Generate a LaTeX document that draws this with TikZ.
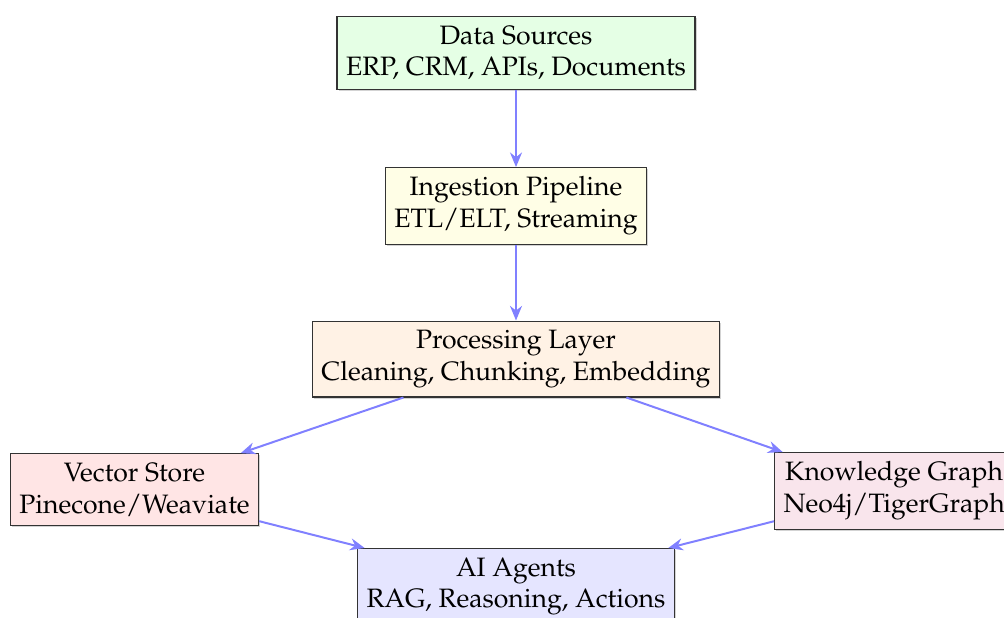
\documentclass[tikz,border=0pt]{standalone}
\usepackage[T1]{fontenc}
\usepackage{mathpazo}
\usetikzlibrary{arrows.meta,shadows}
\begin{document}
\begin{tikzpicture}[x=0.376pt,y=-0.376pt,
  stage/.style={draw=black!80, align=center, font=\normalsize, inner sep=3.4pt,
    drop shadow={shadow xshift=0.6pt, shadow yshift=-0.6pt, opacity=0.35}},
  flow/.style={draw=blue!50, line width=0.75pt, -{Stealth[length=5.5pt,width=4.5pt]}}]
  \useasboundingbox (0,0) rectangle (1004,617);
  \node[stage, fill=green!10] (src) at (516,53) {Data Sources\\ERP, CRM, APIs, Documents};
  \node[stage, fill=yellow!10] (ing) at (516,206) {Ingestion Pipeline\\ETL/ELT, Streaming};
  \node[stage, fill=orange!10] (proc) at (516,359) {Processing Layer\\Cleaning, Chunking, Embedding};
  \node[stage, fill=red!10] (vec) at (134.5,489.5) {Vector Store\\Pinecone/Weaviate};
  \node[stage, fill=purple!10, anchor=north west] (kg) at (774,452) {Knowledge Graph\\Neo4j/TigerGraph};
  \node[stage, fill=blue!10, anchor=north] (ai) at (516,548) {AI Agents\\RAG, Reasoning, Actions};
  \draw[flow] (src) -- (ing);
  \draw[flow] (ing) -- (proc);
  \draw[flow] (proc) -- (vec);
  \draw[flow] (proc) -- (kg);
  \draw[flow] (vec) -- (ai);
  \draw[flow] (kg) -- (ai);
\end{tikzpicture}
\end{document}
